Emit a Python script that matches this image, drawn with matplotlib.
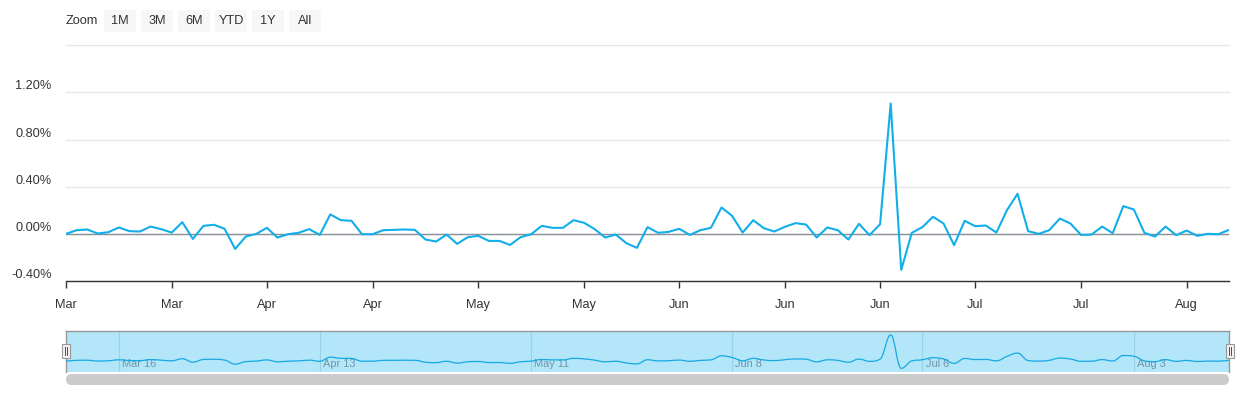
import matplotlib
matplotlib.use("Agg")
import matplotlib.pyplot as plt
from matplotlib.patches import Rectangle, FancyBboxPatch, PathPatch
from matplotlib.path import Path
from matplotlib.transforms import IdentityTransform
import numpy as np

plt.rcParams['font.family'] = ['Liberation Sans', 'DejaVu Sans']

# daily change in %, one value per trading day
values = [
    0.000, 0.031, 0.037, 0.003, 0.014, 0.054, 0.023, 0.020, 0.062, 0.040,
    0.011, 0.099, -0.043, 0.068, 0.077, 0.043, -0.128, -0.023, 0.000, 0.051,
    -0.031, -0.003, 0.009, 0.040, -0.009, 0.165, 0.116, 0.111, -0.003, -0.003,
    0.031, 0.034, 0.037, 0.034, -0.048, -0.065, -0.006, -0.085, -0.028, -0.017,
    -0.060, -0.060, -0.094, -0.028, -0.003, 0.068, 0.051, 0.051, 0.116, 0.094,
    0.040, -0.031, -0.006, -0.079, -0.119, 0.057, 0.009, 0.017, 0.043, -0.009,
    0.031, 0.051, 0.224, 0.153, 0.011, 0.116, 0.048, 0.020, 0.060, 0.091,
    0.079, -0.031, 0.054, 0.031, -0.048, 0.085, -0.011, 0.082, 1.106, -0.306,
    0.009, 0.057, 0.145, 0.088, -0.096, 0.111, 0.065, 0.071, 0.011, 0.201,
    0.340, 0.023, 0.000, 0.031, 0.130, 0.088, -0.009, -0.006, 0.062, 0.006,
    0.235, 0.207, 0.009, -0.023, 0.062, -0.011, 0.028, -0.017, 0.000, -0.003,
    0.034,
]

# x axis ticks (trading-day index) and labels
tick_idx = [0, 10, 19, 29, 39, 49, 58, 68, 77, 86, 96, 106]
tick_labels = ["Mar", "Mar", "Apr", "Apr", "May", "May",
               "Jun", "Jun", "Jun", "Jul", "Jul", "Aug"]

# navigator week ticks
nav_idx = [5, 24, 44, 63, 81, 101]
nav_labels = ["Mar 16", "Apr 13", "May 11", "Jun 8", "Jul 6", "Aug 3"]

y_ticks = [-0.4, 0.0, 0.4, 0.8, 1.2, 1.6]
y_labels = ["-0.40%", "0.00%", "0.40%", "0.80%", "1.20%", ""]

buttons = ["1M", "3M", "6M", "YTD", "1Y", "All"]

LINE = '#11aeea'
TXT = '#333333'
FS = 9.2
W, H = 1240, 400


def fbox(x0, y0, x1, y1):
    # pixel box (top-left origin) -> figure fraction rect
    return [x0 / W, 1 - y1 / H, (x1 - x0) / W, (y1 - y0) / H]


def spline_path(xs, ys, smoothing=1.5):
    n = len(xs)
    lc = [(xs[i], ys[i]) for i in range(n)]
    rc = [(xs[i], ys[i]) for i in range(n)]
    d = smoothing + 1
    for i in range(1, n - 1):
        x, y = xs[i], ys[i]
        lx, ly = xs[i - 1], ys[i - 1]
        nx, ny = xs[i + 1], ys[i + 1]
        lcx, lcy = (smoothing * x + lx) / d, (smoothing * y + ly) / d
        rcx, rcy = (smoothing * x + nx) / d, (smoothing * y + ny) / d
        if rcx != lcx:
            corr = (rcy - lcy) * (rcx - x) / (rcx - lcx) + y - rcy
            lcy += corr
            rcy += corr
            if lcy > ly and lcy > y:
                lcy = max(ly, y)
                rcy = 2 * y - lcy
            elif lcy < ly and lcy < y:
                lcy = min(ly, y)
                rcy = 2 * y - lcy
            if rcy > ny and rcy > y:
                rcy = max(ny, y)
                lcy = 2 * y - rcy
            elif rcy < ny and rcy < y:
                rcy = min(ny, y)
                lcy = 2 * y - rcy
        lc[i] = (lcx, lcy)
        rc[i] = (rcx, rcy)
    verts = [(xs[0], ys[0])]
    codes = [Path.MOVETO]
    for i in range(1, n):
        verts += [rc[i - 1], lc[i], (xs[i], ys[i])]
        codes += [Path.CURVE4] * 3
    return Path(verts, codes)


idx = np.arange(len(values))

fig = plt.figure(figsize=(W / 100, H / 100), dpi=100)

# ---- main chart
ax = fig.add_axes(fbox(66, 45.3, 1229, 281))
ax.plot(idx, values, color=LINE, lw=1.5, solid_joinstyle='round', zorder=3)
ax.axhline(0, color='#8a9099', lw=1.0, zorder=2)
ax.set_xlim(0, len(values) - 1)
ax.set_ylim(-0.4, 1.6)
ax.set_yticks(y_ticks)
ax.set_yticklabels(y_labels)
for lab in ax.get_yticklabels():
    lab.set_verticalalignment('bottom')
ax.grid(axis='y', color='#e6e6e6', lw=1.0, zorder=0)
ax.set_xticks(tick_idx)
ax.set_xticklabels(tick_labels)
ax.tick_params(axis='y', length=0, pad=10.5, labelsize=FS, labelcolor=TXT)
ax.tick_params(axis='x', length=5, width=1, color='#333333', pad=8,
               labelsize=FS, labelcolor=TXT)
for s in ['top', 'left', 'right']:
    ax.spines[s].set_visible(False)
ax.spines['bottom'].set_color('#333333')
ax.spines['bottom'].set_linewidth(1.0)
ax.set_axisbelow(True)
for gl in ax.get_ygridlines():
    gl.set_clip_on(False)

# ---- navigator
nav = fig.add_axes(fbox(66, 331, 1229, 372))
nav.set_facecolor('#b2e6f8')
nav.set_xlim(0, len(values) - 1)
nav.set_ylim(-0.46, 1.27)
nav.add_patch(PathPatch(spline_path(list(idx), values), fill=False,
                        edgecolor='#17a9e4', lw=0.9, zorder=3))
for xi, lab in zip(nav_idx, nav_labels):
    nav.axvline(xi, color='#98d1e8', lw=0.8, zorder=1)
    nav.text(xi + 0.3, 0.2, lab, transform=nav.get_xaxis_transform(),
             fontsize=7.9, color='#6f95a9', va='center', ha='left', zorder=2)
nav.set_xticks([])
nav.set_yticks([])
nav.spines['bottom'].set_visible(False)
for s in ['top', 'left', 'right']:
    nav.spines[s].set_color('#999999')
    nav.spines[s].set_linewidth(1.0)

pix = IdentityTransform()

# navigator handles
for hx in (62, 1226):
    fig.add_artist(Rectangle((hx, H - 358), 8, 14, transform=pix,
                             facecolor='#f2f2f2', edgecolor='#999999', lw=0.8))
    for lx in (hx + 3, hx + 5):
        fig.add_artist(plt.Line2D([lx, lx], [H - 355, H - 347], transform=pix,
                                  color='#333333', lw=0.6))

# scrollbar
fig.add_artist(FancyBboxPatch((66, H - 385), 1163, 11,
                              boxstyle='round,pad=0,rounding_size=5.5',
                              transform=pix, facecolor='#cccccc',
                              edgecolor='none', mutation_aspect=1))

# ---- range selector
fig.text(66 / W, 1 - 21.5 / H, "Zoom", fontsize=FS, color=TXT,
         ha='left', va='center')
bx = 104
for b in buttons:
    fig.add_artist(FancyBboxPatch((bx + 1, H - 32 + 1), 30, 20,
                                  boxstyle='round,pad=1,rounding_size=2',
                                  transform=pix, facecolor='#f7f7f7',
                                  edgecolor='none'))
    fig.text((bx + 16) / W, 1 - 21.5 / H, b, fontsize=FS, color=TXT,
             ha='center', va='center')
    bx += 37

fig.savefig("out.png", dpi=100)
